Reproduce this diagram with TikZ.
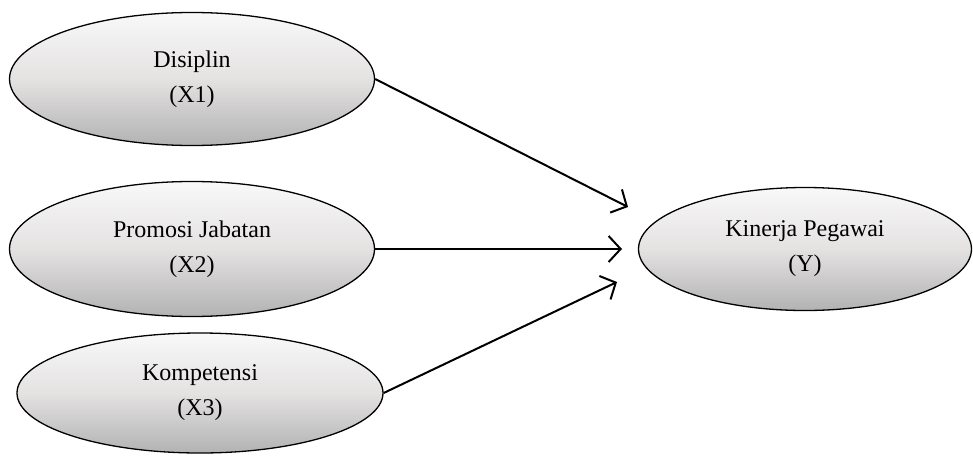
\documentclass[tikz,border=0pt]{standalone}
\usepackage{fontspec}
\setmainfont{Liberation Serif}
\usetikzlibrary{shapes.geometric,arrows.meta}

\begin{document}
\begin{tikzpicture}[x=1pt,y=-1pt,
    var/.style={ellipse,draw,line width=1.3pt,top color=gray!5,bottom color=gray!60,
      middle color=red!5!gray!22,align=center,inner sep=0pt,
      font=\fontsize{24}{35}\selectfont},
    link/.style={line width=2pt,-{Straight Barb[length=12pt,width=26pt]}}]
  \useasboundingbox (0,0) rectangle (973,455);
  % independent variables
  \node[var,minimum width=365pt,minimum height=133pt] (disiplin) at (192,79) {Disiplin\\(X1)};
  \node[var,minimum width=365pt,minimum height=135pt] (promosi) at (192,249) {Promosi Jabatan\\(X2)};
  \node[var,minimum width=366pt,minimum height=120pt] (kompetensi) at (200,393) {Kompetensi\\(X3)};
  % dependent variable
  \node[var,minimum width=333pt,minimum height=123pt] (kinerja) at (805,249) {Kinerja Pegawai\\(Y)};
  % arrow ends
  \coordinate (t1) at (628,207);
  \coordinate (t2) at (622,249);
  \coordinate (t3) at (617,282);
  \draw[link] (disiplin.east) -- (t1);
  \draw[link] (promosi.east) -- (t2);
  \draw[link] (kompetensi.east) -- (t3);
\end{tikzpicture}
\end{document}
